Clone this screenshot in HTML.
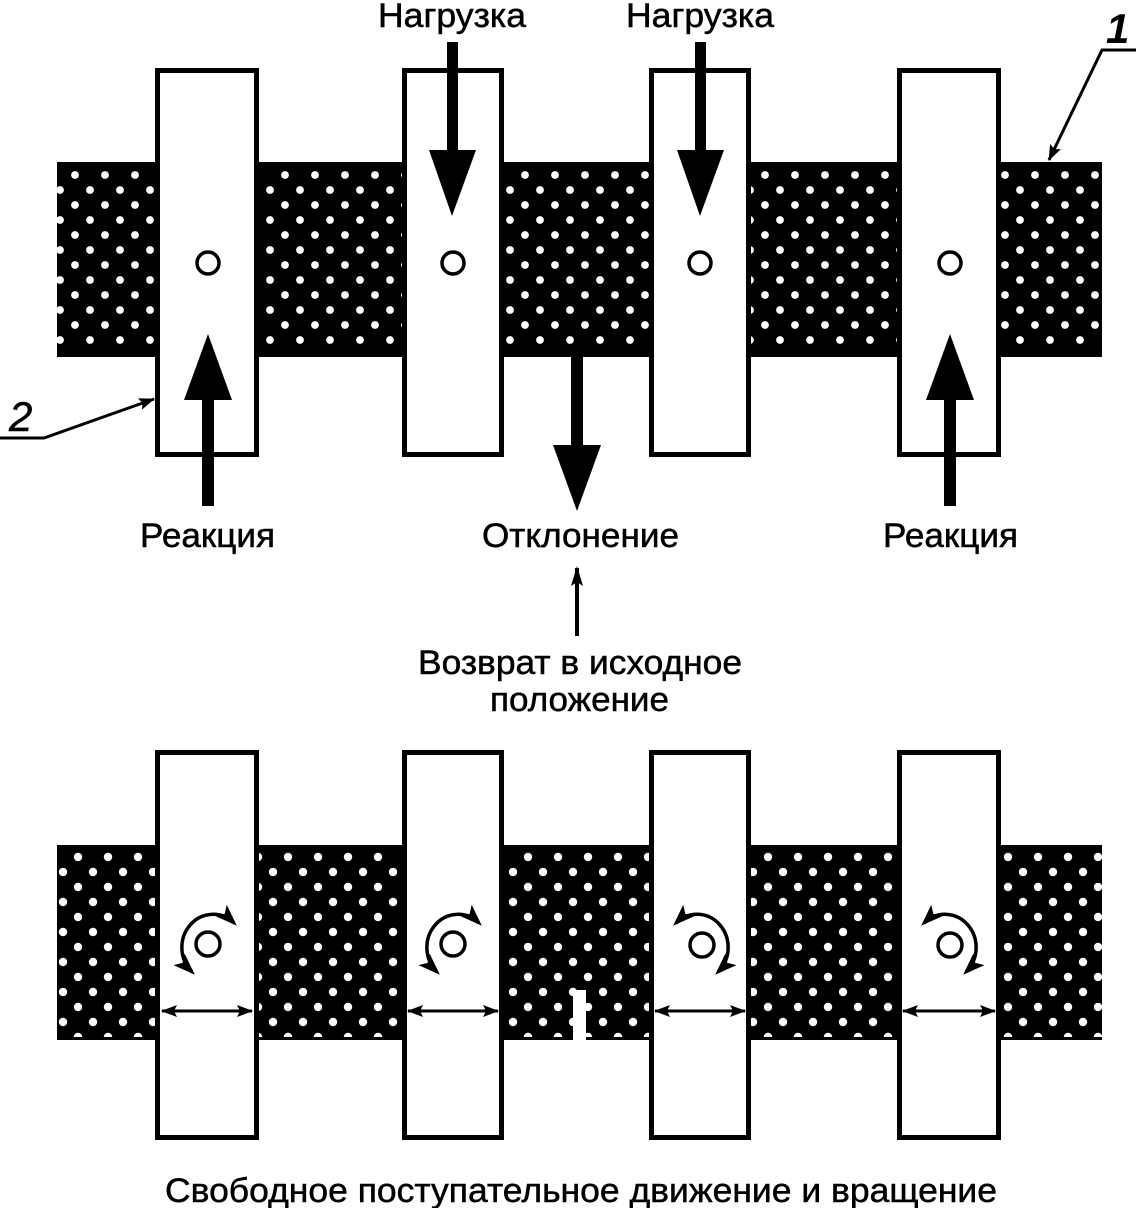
<!DOCTYPE html>
<html><head><meta charset="utf-8"><style>
html,body{margin:0;padding:0;background:#fff;}
svg{display:block;}
text{font-family:"Liberation Sans",sans-serif;fill:#000;}
.t{stroke:#000;stroke-width:0.5;}
</style></head><body>
<svg width="1136" height="1208" viewBox="0 0 1136 1208" xmlns="http://www.w3.org/2000/svg">
<defs>
<pattern id="dots" x="75" y="175" width="30" height="30" patternUnits="userSpaceOnUse">
<rect width="30" height="30" fill="#000"/>
<circle cx="0" cy="0" r="3.9" fill="#fff"/><circle cx="30" cy="0" r="3.9" fill="#fff"/>
<circle cx="0" cy="30" r="3.9" fill="#fff"/><circle cx="30" cy="30" r="3.9" fill="#fff"/>
<circle cx="15" cy="15" r="3.9" fill="#fff"/>
</pattern>
<pattern id="dots2" x="3" y="902" width="30" height="30" patternUnits="userSpaceOnUse">
<rect width="30" height="30" fill="#000"/>
<circle cx="0" cy="0" r="4.2" fill="#fff"/><circle cx="30" cy="0" r="4.2" fill="#fff"/>
<circle cx="0" cy="30" r="4.2" fill="#fff"/><circle cx="30" cy="30" r="4.2" fill="#fff"/>
<circle cx="15" cy="15" r="4.2" fill="#fff"/>
</pattern>
<marker id="ah2" markerWidth="20" markerHeight="12" refX="18" refY="6" orient="auto-start-reverse" markerUnits="userSpaceOnUse"><path d="M0,0 L20,6 L0,12 L4,6 Z"/></marker>
<marker id="ah3" markerWidth="16" markerHeight="12" refX="15" refY="6" orient="auto-start-reverse" markerUnits="userSpaceOnUse"><path d="M0,0 L16,6 L0,12 L3,6 Z"/></marker>
<marker id="ah4" markerWidth="22" markerHeight="16" refX="18" refY="8" orient="auto-start-reverse" markerUnits="userSpaceOnUse"><path d="M0,0 L22,8 L0,16 L5,8 Z"/></marker>
</defs>

<rect x="57" y="162" width="1045" height="195" fill="#000"/>
<rect x="57" y="168" width="1045" height="183" fill="url(#dots)"/>
<g fill="#fff" stroke="#000" stroke-width="5">
<rect x="157.5" y="70.5" width="99" height="384"/>
<rect x="404.5" y="70.5" width="97" height="384"/>
<rect x="651.5" y="70.5" width="97" height="384"/>
<rect x="899.5" y="70.5" width="99" height="384"/>
</g>
<g fill="none" stroke="#000" stroke-width="3.5">
<circle cx="208" cy="263" r="11"/><circle cx="453" cy="263" r="11"/>
<circle cx="700" cy="263" r="11"/><circle cx="950" cy="263" r="11"/>
</g>
<rect x="447" y="42" width="11" height="110"/><path d="M429,150 L476,150 L452,216 Z"/>
<rect x="695" y="42" width="11" height="110"/><path d="M677,150 L724,150 L700,216 Z"/>
<rect x="202" y="398" width="12" height="108"/><path d="M184,400 L232,400 L208,334 Z"/>
<rect x="944" y="398" width="12" height="108"/><path d="M926,400 L974,400 L950,334 Z"/>
<rect x="571" y="357" width="12" height="90"/><path d="M553,445 L601,445 L577,511 Z"/>
<line x1="577" y1="636" x2="577" y2="568" stroke="#000" stroke-width="4" marker-end="url(#ah2)"/>

<g class="t">
<text x="378" y="27" font-size="34" textLength="148" lengthAdjust="spacingAndGlyphs">Нагрузка</text>
<text x="626" y="27" font-size="34" textLength="148" lengthAdjust="spacingAndGlyphs">Нагрузка</text>
<text x="140" y="547" font-size="34" textLength="135" lengthAdjust="spacingAndGlyphs">Реакция</text>
<text x="883" y="547" font-size="34" textLength="135" lengthAdjust="spacingAndGlyphs">Реакция</text>
<text x="482" y="547" font-size="34" textLength="197" lengthAdjust="spacingAndGlyphs">Отклонение</text>
<text x="418" y="674" font-size="34" textLength="324" lengthAdjust="spacingAndGlyphs">Возврат в исходное</text>
<text x="490" y="711" font-size="34" textLength="179" lengthAdjust="spacingAndGlyphs">положение</text>
<text x="165" y="1202" font-size="34" textLength="832" lengthAdjust="spacingAndGlyphs">Свободное поступательное движение и вращение</text>
</g>

<text x="1106" y="43" font-size="42" font-weight="bold" font-style="italic">1</text>
<polyline points="1136,50 1102,50 1049,160" fill="none" stroke="#000" stroke-width="3" marker-end="url(#ah3)"/>
<text x="9" y="431" font-size="42" font-style="italic" class="t">2</text>
<polyline points="0,438 44,438 154,399" fill="none" stroke="#000" stroke-width="3" marker-end="url(#ah3)"/>

<rect x="57" y="845" width="1045" height="195" fill="#000"/>
<rect x="57" y="848" width="1045" height="189" fill="url(#dots2)"/>
<rect x="573" y="990" width="13" height="52" fill="#fff"/>
<g fill="#fff" stroke="#000" stroke-width="5">
<rect x="157.5" y="752.5" width="99" height="385"/>
<rect x="404.5" y="752.5" width="97" height="385"/>
<rect x="651.5" y="752.5" width="97" height="385"/>
<rect x="899.5" y="752.5" width="99" height="385"/>
</g>
<g fill="none" stroke="#000" stroke-width="3.5">
<circle cx="208" cy="944" r="12"/><circle cx="453" cy="944" r="12"/>
<circle cx="702" cy="945" r="12"/><circle cx="950" cy="945" r="12"/>
</g>
<g fill="none" stroke="#000" stroke-width="3.5">
<path d="M192,972 A30,32 0 1 1 234,923" marker-start="url(#ah4)" marker-end="url(#ah4)"/>
<path d="M437,972 A30,32 0 1 1 479,923" marker-start="url(#ah4)" marker-end="url(#ah4)"/>
<path d="M718,972 A30,32 0 1 0 676,923" marker-start="url(#ah4)" marker-end="url(#ah4)"/>
<path d="M966,972 A30,32 0 1 0 924,923" marker-start="url(#ah4)" marker-end="url(#ah4)"/>
</g>
<g stroke="#000" stroke-width="3">
<line x1="162" y1="1011" x2="252" y2="1011" marker-start="url(#ah3)" marker-end="url(#ah3)"/>
<line x1="408" y1="1011" x2="498" y2="1011" marker-start="url(#ah3)" marker-end="url(#ah3)"/>
<line x1="655" y1="1011" x2="745" y2="1011" marker-start="url(#ah3)" marker-end="url(#ah3)"/>
<line x1="903" y1="1011" x2="995" y2="1011" marker-start="url(#ah3)" marker-end="url(#ah3)"/>
</g>
</svg>
</body></html>
